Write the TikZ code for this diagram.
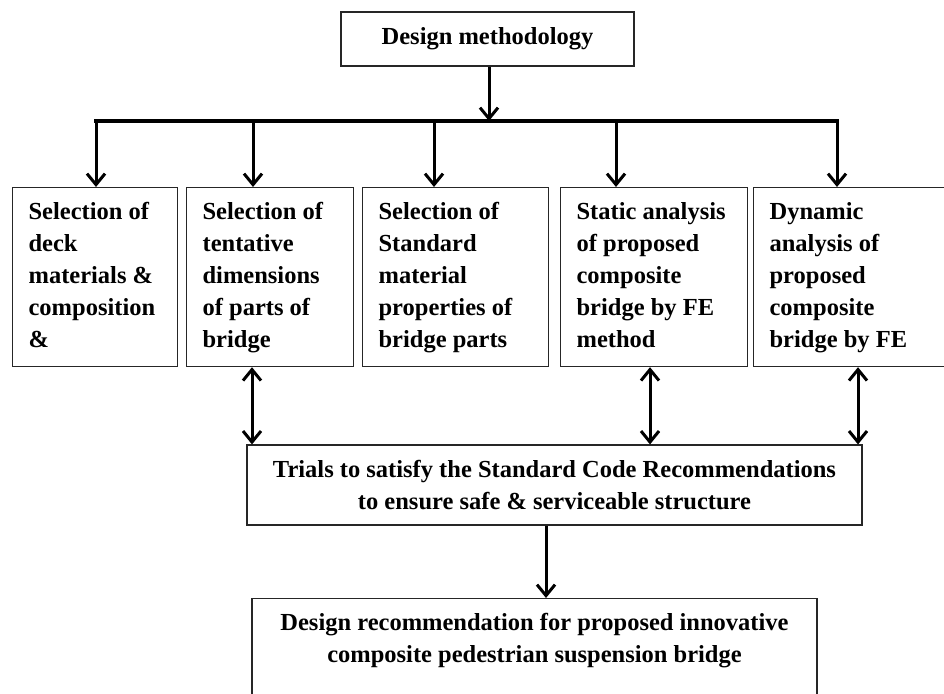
\documentclass[tikz,border=0pt]{standalone}
\usepackage{fontspec}
\setmainfont{Liberation Serif}
\usetikzlibrary{arrows.meta}

\tikzset{
  boxline/.style={draw=black!85, line width=1.2pt},
  flow/.style={line width=3pt, -{Straight Barb[length=11pt,width=18pt]}},
  twoway/.style={line width=3pt, {Straight Barb[length=11pt,width=18pt]}-{Straight Barb[length=11pt,width=18pt]}},
}
% top aligned text block for the five columns
\newcommand{\stagetext}[2]{\parbox[t][150pt][t]{#1}{\raggedright #2}}

\begin{document}
\begin{tikzpicture}[x=1pt, y=-1pt, font=\fontsize{24.5}{32}\selectfont\bfseries]
            \useasboundingbox (0,0) rectangle (944,693);
            \clip (0,0) rectangle (944,693);
            \node[boxline, minimum width=293pt, minimum height=54pt] (method) at (487.5,39) {Design methodology};
            \begin{scope}[every node/.style={boxline, anchor=north west, inner xsep=16pt, inner ysep=14.5pt}]
            \node (deck) at (12,187) {\stagetext{133pt}{Selection of\\deck\\materials \&\\composition\\\&}};
            \node (dims) at (186,187) {\stagetext{135pt}{Selection of\\tentative\\dimensions\\of parts of\\bridge}};
            \node (props) at (362,187) {\stagetext{154pt}{Selection of\\Standard\\material\\properties of\\bridge parts}};
            \node (static) at (560,187) {\stagetext{155pt}{Static analysis\\of proposed\\composite\\bridge by FE\\method}};
            \node (dynamic) at (753,187) {\stagetext{175pt}{Dynamic\\analysis of\\proposed\\composite\\bridge by FE}};
            \end{scope}
            \node[boxline, minimum width=615pt, minimum height=80pt, align=center] (trials) at (554.5,485) {Trials to satisfy the Standard Code Recommendations\\to ensure safe \& serviceable structure};
            \node[boxline, anchor=north, inner xsep=0pt, inner ysep=15pt] (recom) at (534.5,598) {\parbox[t][110pt][t]{565pt}{\centering Design recommendation for proposed innovative\\composite pedestrian suspension bridge}};
            % branching bar
            \coordinate (hub) at (489,121);
            \coordinate (b-deck) at (96,121);
            \coordinate (b-dims) at (253,121);
            \coordinate (b-props) at (434,121);
            \coordinate (b-static) at (616,121);
            \coordinate (b-dynamic) at (837,121);
            \draw[flow] (method.south -| hub) -- (hub);
            \draw[line width=3.5pt, line cap=rect] (b-deck) -- (b-dynamic);
            \foreach \n in {deck,dims,props,static,dynamic}
                \draw[flow] (b-\n) -- (b-\n |- \n.north);
            % links to the trials box
            \coordinate (c-dims) at (252,0);
            \coordinate (c-static) at (650,0);
            \coordinate (c-dynamic) at (858,0);
            \coordinate (c-trials) at (546,0);
            \foreach \n in {dims,static,dynamic}
                \draw[twoway] (\n.south -| c-\n) -- (trials.north -| c-\n);
            \draw[flow] (trials.south -| c-trials) -- (recom.north -| c-trials);
\end{tikzpicture}
\end{document}
